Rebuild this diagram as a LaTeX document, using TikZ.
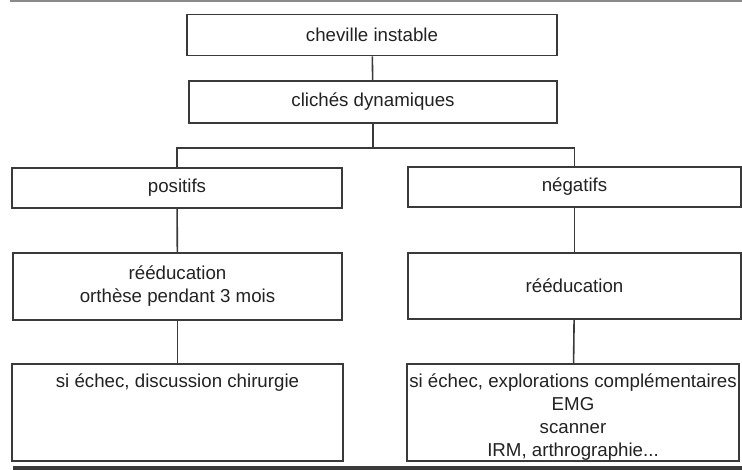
\documentclass[tikz,border=0pt]{standalone}
\usepackage{fontspec}
\setmainfont{Liberation Sans}
\usepackage{tikz}
\usepackage{xcolor}
\usetikzlibrary{calc}
\definecolor{cLine}{HTML}{3A3A3A}
\definecolor{cText}{HTML}{222222}
\definecolor{cRule}{HTML}{8A8A8A}

\tikzset{
  stepbox/.style={draw=cLine, line width=1.6pt, text=cText, align=center, inner sep=0pt},
  topbox/.style={stepbox, text height=24pt, text depth=73pt},
  link/.style={draw=cLine, line width=1.6pt},
}

\begin{document}
\begin{tikzpicture}[x=1pt, y=-1pt, font=\fontsize{18.7}{23}\selectfont]
  \useasboundingbox (0,0) rectangle (742,470);
  % rules of the scanned page
  \draw[cRule, line width=2pt] (10,1.5) -- (742,1.5);
  \draw[cLine, line width=4pt] (13,468) -- (742,468);

  % boxes
  \node[stepbox, minimum width=370pt, minimum height=41pt] (cheville) at (372,35) {cheville instable};
  \node[stepbox, minimum width=368pt, minimum height=42pt] (cliches) at (373,102) {clichés dynamiques};
  \node[stepbox, minimum width=330pt, minimum height=40pt] (positifs) at (177,188) {positifs};
  \node[stepbox, minimum width=333pt, minimum height=40pt] (negatifs) at (574.5,187) {négatifs};
  \node[stepbox, minimum width=329pt, minimum height=67pt] (reedPos) at (177.5,286.5)
    {rééducation\\orthèse pendant 3 mois};
  \node[stepbox, minimum width=333pt, minimum height=66pt] (reedNeg) at (574.5,286) {rééducation};
  \node[topbox, minimum width=331pt] (echecPos) at (177.5,412.5)
    {\begin{tabular}[t]{@{}c@{}}si échec, discussion chirurgie\end{tabular}};
  \node[topbox, minimum width=332pt] (echecNeg) at (573,412.5)
    {\begin{tabular}[t]{@{}c@{}}si échec, explorations complémentaires\\EMG\\scanner\\IRM, arthrographie...\end{tabular}};

  % connectors
  \coordinate (split) at (373,148);
  \draw[link] (cheville) -- (cliches);
  \draw[link] (cliches) -- (split);
  \draw[link] (positifs.north) |- (split) -| (negatifs.north);
  \draw[link] (positifs) -- (reedPos);
  \draw[link] (reedPos) -- (echecPos);
  \draw[link] (negatifs) -- (reedNeg);
  \draw[link] (reedNeg) -- (echecNeg);
\end{tikzpicture}
\end{document}
